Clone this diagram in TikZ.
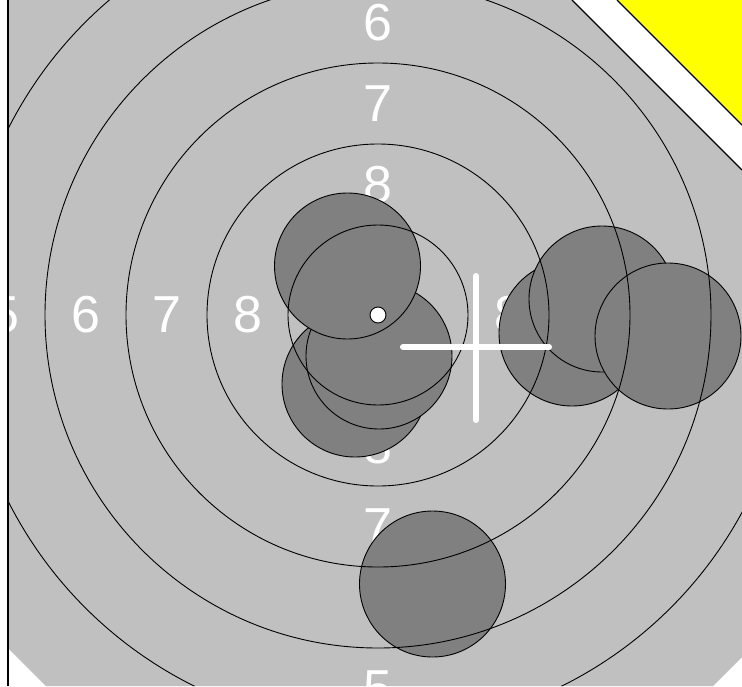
\documentclass[tikz,border=0pt]{standalone}
\usepackage{fontspec}
\setmainfont{Liberation Sans}
\definecolor{targetgray}{RGB}{192,192,192}
\definecolor{shotgray}{RGB}{128,128,128}
\definecolor{cardyellow}{RGB}{255,255,0}
\tikzset{
  ring/.style={draw=black, line width=0.9pt},
  shot/.style={fill=shotgray, draw=black, line width=0.9pt},
  ringlabel/.style={text=white, font=\fontsize{52}{52}\selectfont, inner sep=0pt, anchor=center},
  crossbar/.style={draw=white, line width=6pt, line cap=round},
  edge/.style={draw=black, line width=1.2pt}
}
\begin{document}
\begin{tikzpicture}[x=1pt,y=-1pt]
\useasboundingbox (0,0) rectangle (742,686);
\fill[white] (0,0) rectangle (742,686);
% yellow corner
\fill[cardyellow] (617,0) -- (742,0) -- (742,125) -- cycle;
\draw[edge] (617,0) -- (742,125);
% gray target face
\fill[targetgray] (8,0) -- (572,0) -- (742,170) -- (742,657) -- (713,686) -- (46,686) -- (8,648) -- cycle;
\begin{scope}
  \clip (8,0) -- (572,0) -- (742,170) -- (742,657) -- (713,686) -- (46,686) -- (8,648) -- cycle;
  \coordinate (c) at (378,315);
  % ring labels
  \node[ringlabel] (t8) at (378,184.5) {8};
  \node[ringlabel] (t7) at (378,103.5) {7};
  \node[ringlabel] (t6) at (378,22.5) {6};
  \node[ringlabel] (b8) at (378,445.5) {8};
  \node[ringlabel] (b7) at (378,526.5) {7};
  \node[ringlabel] (b6) at (378,607.5) {6};
  \node[ringlabel] (b5) at (378,688.5) {5};
  \node[ringlabel] (l8) at (247.5,315) {8};
  \node[ringlabel] (l7) at (166.5,315) {7};
  \node[ringlabel] (l6) at (85.5,315) {6};
  \node[ringlabel] (l5) at (4.5,315) {5};
  \node[ringlabel] (r8) at (508.5,315) {8};
  \node[ringlabel] (r7) at (589.5,315) {7};
  \node[ringlabel] (r6) at (670.5,315) {6};
  % shots
  \path[shot] (355,384) circle[radius=73pt];
  \path[shot] (379,356) circle[radius=73pt];
  \path[shot] (347.5,266) circle[radius=73pt];
  \path[shot] (572,333) circle[radius=73pt];
  \path[shot] (602,299) circle[radius=73pt];
  \path[shot] (668,336) circle[radius=73pt];
  \path[shot] (432.5,584) circle[radius=73pt];
  % rings
  \foreach \r in {90,171,252,333,414} {
    \path[ring] (c) circle[radius=\r pt];
  }
  % centre dot
  \path[draw=black, fill=white, line width=0.9pt] (c) circle[radius=8pt];
\end{scope}
\draw[edge] (572,0) -- (742,170);
\draw[edge] (8,0) -- (8,686);
% aiming cross
\coordinate (vt) at (476,276);
\coordinate (vb) at (476,420);
\coordinate (hl) at (403,347);
\coordinate (hr) at (549,347);
\draw[crossbar] (vt) -- (vb);
\draw[crossbar] (hl) -- (hr);
\end{tikzpicture}
\end{document}
